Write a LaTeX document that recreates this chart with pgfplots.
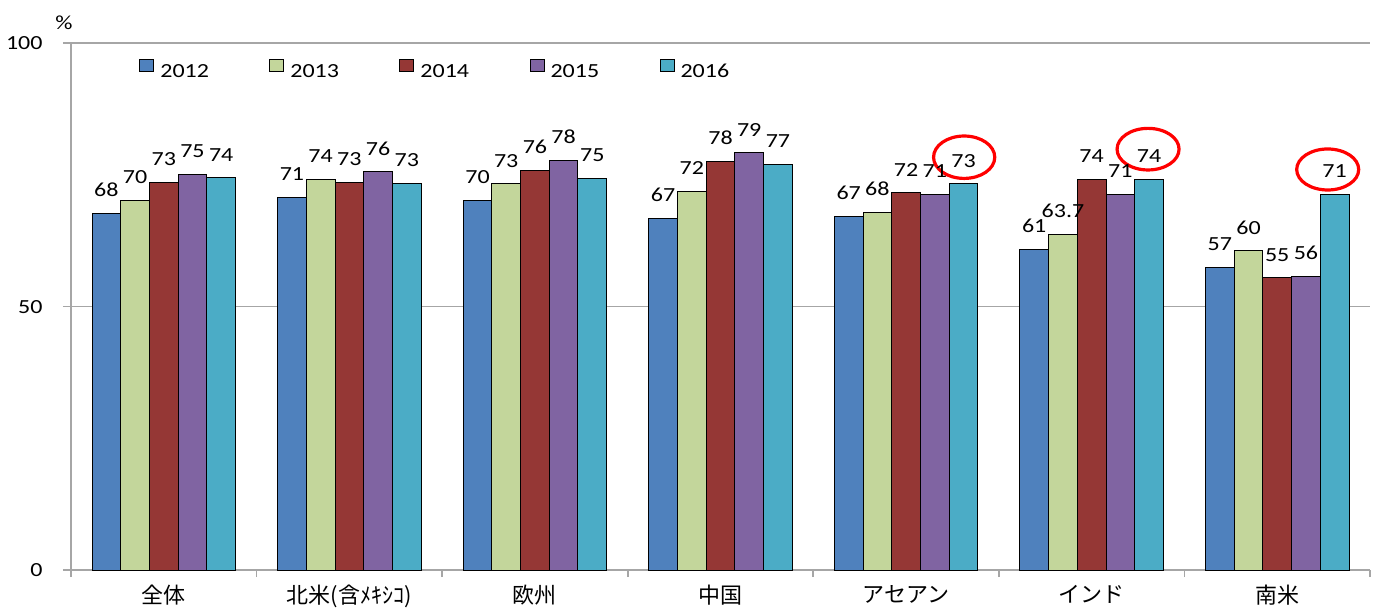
\documentclass[border=0pt]{standalone}
\usepackage{fontspec}
\setmainfont{Carlito}[FakeStretch=1.2]
\newfontfamily\jpfont{Noto Sans CJK JP}
\usepackage{pgfplots}
\pgfplotsset{compat=1.18}
\definecolor{cA}{HTML}{4F81BD}
\definecolor{cB}{HTML}{C3D69B}
\definecolor{cC}{HTML}{953735}
\definecolor{cD}{HTML}{8064A2}
\definecolor{cE}{HTML}{4BACC6}
\definecolor{axgray}{HTML}{A6A6A6}
\pgfplotsset{sqlegend/.style={legend image code/.code={\draw[##1] (0pt,0.2pt) rectangle (7pt,6.2pt);}}}
\begin{document}
\begin{tikzpicture}
\begin{axis}[
  scale only axis, width=649.5pt, height=263.35pt,
  xmin=-0.5, xmax=6.5, ymin=0, ymax=100,
  axis x line*=bottom, axis y line*=left,
  axis line style={draw=axgray, line width=0.8pt},
  ytick={0,50,100}, ymajorgrids, grid style={draw=axgray, line width=0.8pt},
  ytick style={draw=axgray, line width=0.8pt},
  tick align=outside, major tick length=4pt,
  xtick={0,...,6},
  xticklabels={全体,北米(含ﾒｷｼｺ),欧州,中国,アセアン,インド,南米},
  major x tick style={draw=none},
  minor xtick={-0.5,0.5,...,6.5},
  minor x tick style={draw=axgray, line width=0.8pt}, minor tick length=3.5pt,
  xticklabel style={font=\jpfont\fontsize{11}{13}\selectfont},
  yticklabel style={font=\fontsize{10}{12}\selectfont, xshift=-6.7pt},
  /pgf/number format/assume math mode=true,
  ybar, bar width=0.1547,
  nodes near coords, point meta=explicit symbolic,
  every node near coord/.append style={font=\fontsize{10}{12}\selectfont, inner sep=0pt, anchor=south, yshift=8pt, text=black},
  legend style={draw=none, fill=none, inner sep=0pt, at={(0.0523,0.9493)}, anchor=west,
    font=\fontsize{10}{12}\selectfont, nodes={inner sep=0pt},
    /tikz/every odd column/.append style={column sep=3pt},
    /tikz/every even column/.append style={column sep=30.2pt}},
  legend columns=-1,
  clip=false,
]
\addplot[fill=cA, draw=black, line width=0.5pt, bar shift=-0.3094, sqlegend] coordinates {(0,67.7)[68] (1,70.8)[71] (2,70.2)[70] (3,66.8)[67] (4,67.1)[67] (5,60.9)[61] (6,57.5)[57]};
\addplot[fill=cB, draw=black, line width=0.5pt, bar shift=-0.1547, sqlegend] coordinates {(0,70.2)[70] (1,74.2)[74] (2,73.3)[73] (3,71.9)[72] (4,67.9)[68] (5,63.7)[63.7] (6,60.6)[60]};
\addplot[fill=cC, draw=black, line width=0.5pt, bar shift=0, sqlegend] coordinates {(0,73.6)[73] (1,73.6)[73] (2,75.9)[76] (3,77.6)[78] (4,71.6)[72] (5,74.2)[74] (6,55.5)[55]};
\addplot[fill=cD, draw=black, line width=0.5pt, bar shift=0.1547, sqlegend] coordinates {(0,75.1)[75] (1,75.6)[76] (2,77.8)[78] (3,79.2)[79] (4,71.3)[71] (5,71.3)[71] (6,55.8)[56]};
\addplot[fill=cE, draw=black, line width=0.5pt, bar shift=0.3094, sqlegend] coordinates {(0,74.5)[74] (1,73.4)[73] (2,74.4)[75] (3,77.0)[77] (4,73.3)[73] (5,74.2)[74] (6,71.3)[71]};
\legend{2012,2013,2014,2015,2016}
\draw[red, line width=1.6pt] (axis cs:4.313,78.37) ellipse [x radius=15.3pt, y radius=10.6pt];
\draw[red, line width=1.6pt] (axis cs:5.304,79.9) ellipse [x radius=15.5pt, y radius=10.4pt];
\draw[red, line width=1.6pt] (axis cs:6.272,76.04) ellipse [x radius=15.5pt, y radius=10.25pt];
\node[font=\fontsize{10}{12}\selectfont] at (rel axis cs:0,1) [xshift=-3.5pt, yshift=10.4pt] {\%};
\coordinate (ll) at (rel axis cs:0,0);
\end{axis}
\pgfresetboundingbox
\path ([shift={(-35.5pt,-20pt)}]ll) rectangle ([shift={(654pt,285pt)}]ll);
\end{tikzpicture}
\end{document}
